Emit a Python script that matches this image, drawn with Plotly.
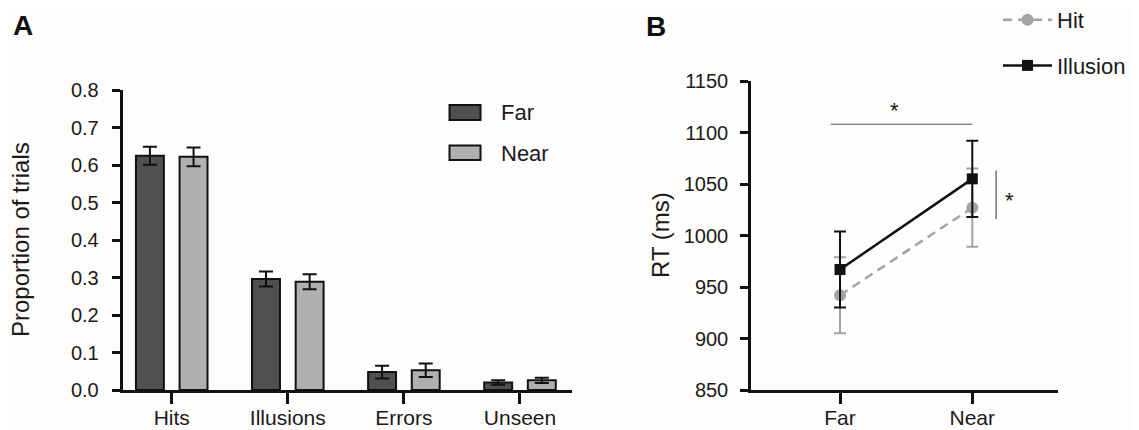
import plotly.graph_objects as go

# ---------------- data ----------------
categories = ["Hits", "Illusions", "Errors", "Unseen"]
far_mean = [0.625, 0.296, 0.048, 0.020]
far_err = [0.024, 0.020, 0.017, 0.006]
near_mean = [0.622, 0.289, 0.053, 0.026]
near_err = [0.025, 0.020, 0.018, 0.007]

conditions = ["Far", "Near"]
hit_rt = [942, 1027]
hit_err = [37, 38]
illusion_rt = [967, 1055]
illusion_err = [37, 37]

a_ticks = [0.0, 0.1, 0.2, 0.3, 0.4, 0.5, 0.6, 0.7, 0.8]
b_ticks = [850, 900, 950, 1000, 1050, 1100, 1150]

# the page body has an 8px margin, so the figure is drawn 8px in from the corner
OFF = 8
W, H = 1139 - OFF, 430 - OFF
FONT = "Liberation Sans, Arial, sans-serif"
DARK = "#505050"
LIGHT = "#b0b0b0"
HITC = "#a3a3a3"


def px(x):
    return (x - OFF) / W


def py(y):
    return 1 - (y - OFF) / H


fig = go.Figure()

# ---------------- Panel A ----------------
fig.add_trace(go.Bar(
    x=categories, y=far_mean, name="Far", showlegend=False,
    marker=dict(color=DARK, line=dict(color="#111111", width=2)),
    error_y=dict(type="data", array=far_err, color="#111111", thickness=2, width=7),
    xaxis="x", yaxis="y",
))
fig.add_trace(go.Bar(
    x=categories, y=near_mean, name="Near", showlegend=False,
    marker=dict(color=LIGHT, line=dict(color="#111111", width=2)),
    error_y=dict(type="data", array=near_err, color="#111111", thickness=2, width=7),
    xaxis="x", yaxis="y",
))

# ---------------- Panel B ----------------
fig.add_trace(go.Scatter(
    x=conditions, y=hit_rt, name="Hit", mode="lines+markers",
    line=dict(color=HITC, width=2.5, dash="9px,6px"),
    marker=dict(symbol="circle", size=12, color=HITC),
    error_y=dict(type="data", array=hit_err, color=HITC, thickness=2, width=6),
    xaxis="x2", yaxis="y2", legend="legend2", legendgroup="hit",
))
fig.add_trace(go.Scatter(
    x=conditions, y=illusion_rt, name="Illusion", mode="lines+markers",
    line=dict(color="#111111", width=2.5),
    marker=dict(symbol="square", size=11, color="#111111"),
    error_y=dict(type="data", array=illusion_err, color="#111111", thickness=2, width=6),
    xaxis="x2", yaxis="y2", legend="legend2", legendgroup="ill",
))

axis_common = dict(showgrid=False, zeroline=False, showline=True,
                   linecolor="#111111", linewidth=2.5, ticks="outside",
                   tickcolor="#111111", tickwidth=2.5, automargin=False)

fig.update_layout(
    width=W, height=H,
    margin=dict(l=0, r=0, t=0, b=0, autoexpand=False),
    paper_bgcolor="#fefdfc", plot_bgcolor="rgba(0,0,0,0)",
    font=dict(family=FONT, color="#1a1a1a"),
    barmode="group", bargap=0.248, bargroupgap=0.36,
    xaxis=dict(**axis_common, domain=[px(122.5), px(572)], type="category",
               range=[-0.424, 3.448], ticklen=11, ticklabelstandoff=-4,
               tickfont=dict(size=21), anchor="y"),
    yaxis=dict(**axis_common, domain=[py(390), py(90)], range=[0, 0.8],
               tickvals=a_ticks, tickformat=".1f", ticklen=8,
               ticklabelstandoff=9, tickfont=dict(size=20), anchor="x"),
    xaxis2=dict(**axis_common, domain=[px(751), px(1058)], type="category",
                range=[-0.673, 1.648], ticklen=11, ticklabelstandoff=-4,
                tickfont=dict(size=21), anchor="y2"),
    yaxis2=dict(**axis_common, domain=[py(390), py(81)], range=[850, 1150],
                tickvals=b_ticks, ticklen=8, ticklabelstandoff=8,
                tickfont=dict(size=20), anchor="x2"),
    showlegend=True,
    legend2=dict(x=px(998), y=py(-1), xanchor="left", yanchor="top",
                 font=dict(size=22, family=FONT), bgcolor="rgba(0,0,0,0)",
                 traceorder="grouped", tracegroupgap=14, itemwidth=49),
)

annotations = [
    dict(text="<b>A</b>", x=px(23), y=py(25), xref="paper", yref="paper",
         xanchor="center", yanchor="middle",
         showarrow=False, font=dict(size=28, family=FONT, color="#111111")),
    dict(text="<b>B</b>", x=px(656), y=py(26), xref="paper", yref="paper",
         xanchor="center", yanchor="middle",
         showarrow=False, font=dict(size=28, family=FONT, color="#111111")),
    dict(text="Proportion of trials", x=px(20), y=py(240), xref="paper", yref="paper",
         xanchor="center", yanchor="middle",
         textangle=-90, showarrow=False, font=dict(size=24, family=FONT)),
    dict(text="RT (ms)", x=px(661), y=py(235), xref="paper", yref="paper",
         xanchor="center", yanchor="middle",
         textangle=-90, showarrow=False, font=dict(size=24, family=FONT)),
    # legend A
    dict(text="Far", x=px(499), y=py(113), xref="paper", yref="paper", xanchor="left",
         yanchor="middle", showarrow=False, font=dict(size=22, family=FONT)),
    dict(text="Near", x=px(499), y=py(153), xref="paper", yref="paper", xanchor="left",
         yanchor="middle", showarrow=False, font=dict(size=22, family=FONT)),
    # significance stars
    dict(text="*", x=0.41, y=1121, xref="x2", yref="y2", showarrow=False,
         font=dict(size=22, family=FONT, color="#111111")),
    dict(text="*", x=1.285, y=1034, xref="x2", yref="y2", showarrow=False,
         font=dict(size=22, family=FONT, color="#111111")),
]
fig.update_layout(annotations=annotations)

shapes = [
    # legend A boxes
    dict(type="rect", xref="paper", yref="paper", x0=px(449.5), x1=px(480.5),
         y0=py(120), y1=py(105), fillcolor=DARK, line=dict(color="#111111", width=2)),
    dict(type="rect", xref="paper", yref="paper", x0=px(449.5), x1=px(480.5),
         y0=py(160), y1=py(145.5), fillcolor=LIGHT, line=dict(color="#111111", width=2)),
    # significance lines B
    dict(type="line", xref="x2", yref="y2", x0=-0.07, x1=1.0, y0=1108, y1=1108,
         line=dict(color="#555555", width=1.2)),
    dict(type="line", xref="x2", yref="y2", x0=1.18, x1=1.18, y0=1016, y1=1063,
         line=dict(color="#555555", width=1.2)),
]
fig.update_layout(shapes=shapes)

fig.write_html("out.html")
